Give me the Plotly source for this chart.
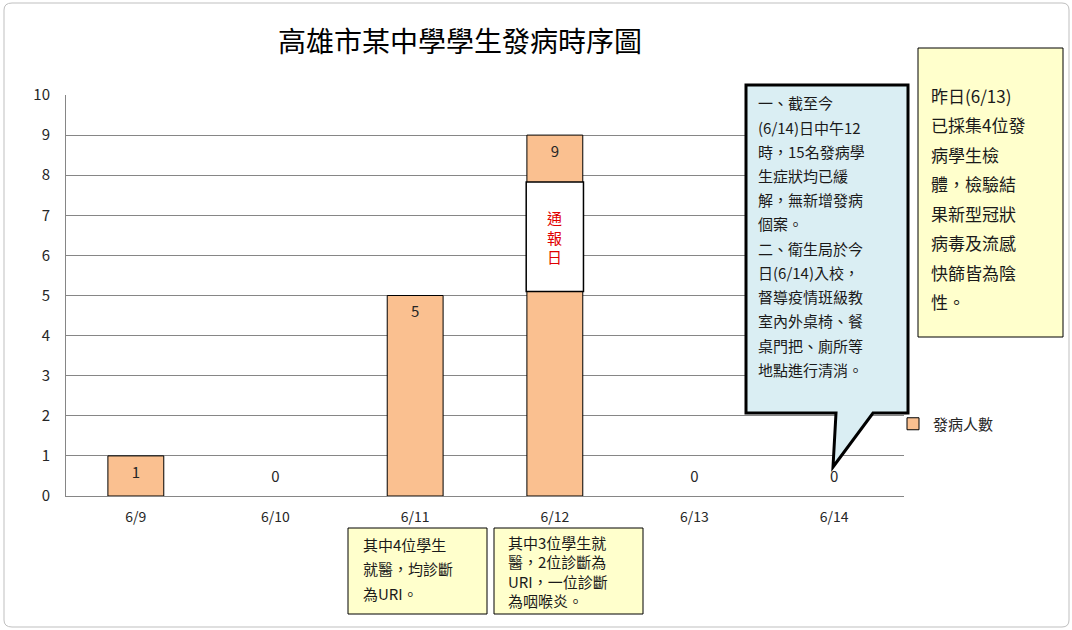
import plotly.graph_objects as go

# data
dates = ["6/9", "6/10", "6/11", "6/12", "6/13", "6/14"]
cases = [1, 0, 5, 9, 0, 0]
series_name = "發病人數"
title_text = "高雄市某中學學生發病時序圖"

report_label = "通<br>報<br>日"
report_date = "6/12"
report_span = [5.1, 7.83]  # white "通報日" box on the 6/12 bar

callout_lines = [
    "一、截至今", "(6/14)日中午12", "時，15名發病學", "生症狀均已緩",
    "解，無新增發病", "個案。", "二、衛生局於今", "日(6/14)入校，",
    "督導疫情班級教", "室內外桌椅、餐", "桌門把、廁所等", "地點進行清消。",
]
side_note_lines = [
    "昨日(6/13)", "已採集4位發", "病學生檢", "體，檢驗結",
    "果新型冠狀", "病毒及流感", "快篩皆為陰", "性。",
]
note_611 = ["其中4位學生", "就醫，均診斷", "為URI。"]
note_612 = ["其中3位學生就", "醫，2位診斷為", "URI，一位診斷", "為咽喉炎。"]

FONT = "Noto Sans CJK TC"
W, H = 1072, 630
L, R, T, B = 66, 904, 95, 496   # plot area in pixels


def px(x):
    return (x - L) / (R - L)


def py(y):
    return (B - y) / (B - T)


fig = go.Figure()

fig.add_trace(go.Bar(
    x=dates, y=cases, name=series_name,
    marker=dict(color="#FAC090",
                line=dict(color="black", width=[1 if v > 0 else 0 for v in cases])),
    width=0.4, hoverinfo="x+y",
))

# data labels (inside end, zeros sit on the axis)
fig.add_trace(go.Scatter(
    x=dates, y=[max(v - 0.45, 0.45) for v in cases],
    mode="text", text=[str(v) for v in cases],
    textfont=dict(size=15, color="#262626", family=FONT),
    showlegend=False, hoverinfo="skip",
))

shapes = []
# outer chart frame
shapes.append(dict(
    type="path", xref="paper", yref="paper",
    path=(f"M {px(12)},{py(3)} L {px(1062)},{py(3)} Q {px(1069)},{py(3)} {px(1069)},{py(10)} "
          f"L {px(1069)},{py(620)} Q {px(1069)},{py(627)} {px(1062)},{py(627)} "
          f"L {px(12)},{py(627)} Q {px(4)},{py(627)} {px(4)},{py(620)} "
          f"L {px(4)},{py(10)} Q {px(4)},{py(3)} {px(12)},{py(3)} Z"),
    line=dict(color="#BFBFBF", width=1), layer="below",
))

# "通報日" box over the 6/12 bar
idx = dates.index(report_date)
shapes.append(dict(
    type="rect", xref="x", yref="y",
    x0=idx - 0.205, x1=idx + 0.205, y0=report_span[0], y1=report_span[1],
    fillcolor="white", line=dict(color="black", width=1.5),
))

# callout with tail pointing at 6/14
shapes.append(dict(
    type="path", xref="paper", yref="paper",
    path=(f"M {px(746)},{py(85)} L {px(908)},{py(85)} L {px(908)},{py(413)} "
          f"L {px(873)},{py(413)} L {px(833)},{py(467)} L {px(836)},{py(413)} "
          f"L {px(746)},{py(413)} Z"),
    fillcolor="#DAEEF3", line=dict(color="black", width=3),
))

# yellow side note
shapes.append(dict(
    type="rect", xref="paper", yref="paper",
    x0=px(918), x1=px(1063), y0=py(337), y1=py(48),
    fillcolor="#FFFFCC", line=dict(color="black", width=1),
))
# bottom notes
for x0, x1 in [(348, 487), (494, 643)]:
    shapes.append(dict(
        type="rect", xref="paper", yref="paper",
        x0=px(x0), x1=px(x1), y0=py(614), y1=py(528),
        fillcolor="#FFFFCC", line=dict(color="black", width=1),
    ))

annotations = []


def add_lines(lines, x, y0, step, size, color="#1a1a1a"):
    for i, line in enumerate(lines):
        annotations.append(dict(
            xref="paper", yref="paper", x=px(x), y=py(y0 + i * step),
            xanchor="left", yanchor="middle", showarrow=False,
            text=line, font=dict(size=size, color=color, family=FONT),
        ))


add_lines(callout_lines, 756, 103, 24.2, 15)
add_lines(side_note_lines, 929, 95, 29.5, 17)
add_lines(note_611, 361, 544, 24.5, 15)
add_lines(note_612, 506, 542, 19.5, 15)

annotations.append(dict(
    xref="x", yref="y", x=idx, y=sum(report_span) / 2,
    text=report_label, showarrow=False,
    font=dict(size=15, color="#E00000", family=FONT),
))
annotations.append(dict(
    xref="paper", yref="paper", x=px(460), y=py(40),
    text=title_text, showarrow=False, xanchor="center", yanchor="middle",
    font=dict(size=28, color="black", family=FONT),
))

fig.update_layout(
    width=W, height=H,
    margin=dict(l=L, r=W - R, t=T, b=H - B),
    paper_bgcolor="white", plot_bgcolor="white",
    font=dict(family=FONT, size=14, color="#262626"),
    showlegend=True,
    legend=dict(x=px(893), y=py(424), xanchor="left", yanchor="middle",
                font=dict(size=15, color="#262626"), bgcolor="rgba(0,0,0,0)",
                itemwidth=30),
    shapes=shapes, annotations=annotations,
    bargap=0.6,
    xaxis=dict(showgrid=False, showline=True, linecolor="#868686", linewidth=1,
               ticks="", tickfont=dict(size=14), ticklabelstandoff=8),
    yaxis=dict(range=[0, 10], dtick=1, showgrid=True, gridcolor="#868686",
               gridwidth=1, showline=True, linecolor="#868686", zeroline=False,
               ticks="", tickfont=dict(size=15), ticklabelstandoff=12),
)

# drop the page's default body margin so the figure sits at the window corner
fig.write_html("out.html", config={"displayModeBar": False},
               post_script="document.body.style.margin='0';")
